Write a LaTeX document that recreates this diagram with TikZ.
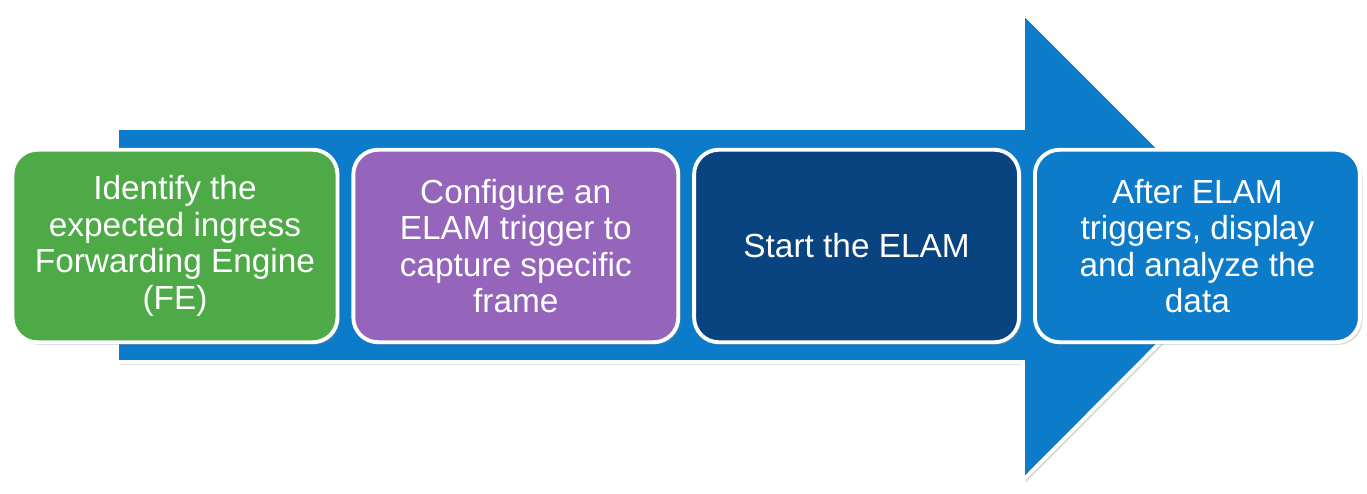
\documentclass[tikz,border=0pt]{standalone}
\usepackage{fontspec}
\setmainfont{Liberation Sans}
\usetikzlibrary{positioning,shadows}

\definecolor{flowblue}{HTML}{0C7BC9}
\definecolor{flowgreen}{HTML}{4DAA46}
\definecolor{flowpurple}{HTML}{9465BA}
\definecolor{flownavy}{HTML}{0A4480}

\begin{document}
\begin{tikzpicture}[x=0.02cm, y=-0.02cm,
    flowshadow/.style={drop shadow={opacity=0.3, shadow xshift=1.5pt, shadow yshift=-1.5pt}},
    stepbox/.style={draw=white, line width=2.2pt, rounded corners=14pt,
        minimum width=6.5cm, minimum height=3.85cm, text=white, align=center,
        font=\fontsize{19}{20.8}\selectfont, flowshadow}]

    \useasboundingbox (0,0) rectangle (1367,494);

    \fill[flowblue, draw=white, line width=2pt, flowshadow]
        (117,128) -- (1023,128) -- (1023,13) -- (1256,246)
        -- (1023,480) -- (1023,362) -- (117,362) -- cycle;

    \node[stepbox, fill=flowgreen] (identify) at (175,246)
        {Identify the\\expected ingress\\Forwarding Engine\\(FE)};

    \node[stepbox, fill=flowpurple, right=0.24cm of identify] (configure)
        {Configure an\\ELAM trigger to\\capture specific\\frame};

    \node[stepbox, fill=flownavy, right=0.24cm of configure] (start)
        {Start the ELAM};

    \node[stepbox, fill=flowblue, right=0.24cm of start] (analyze)
        {After ELAM\\triggers, display\\and analyze the\\data};

\end{tikzpicture}
\end{document}
